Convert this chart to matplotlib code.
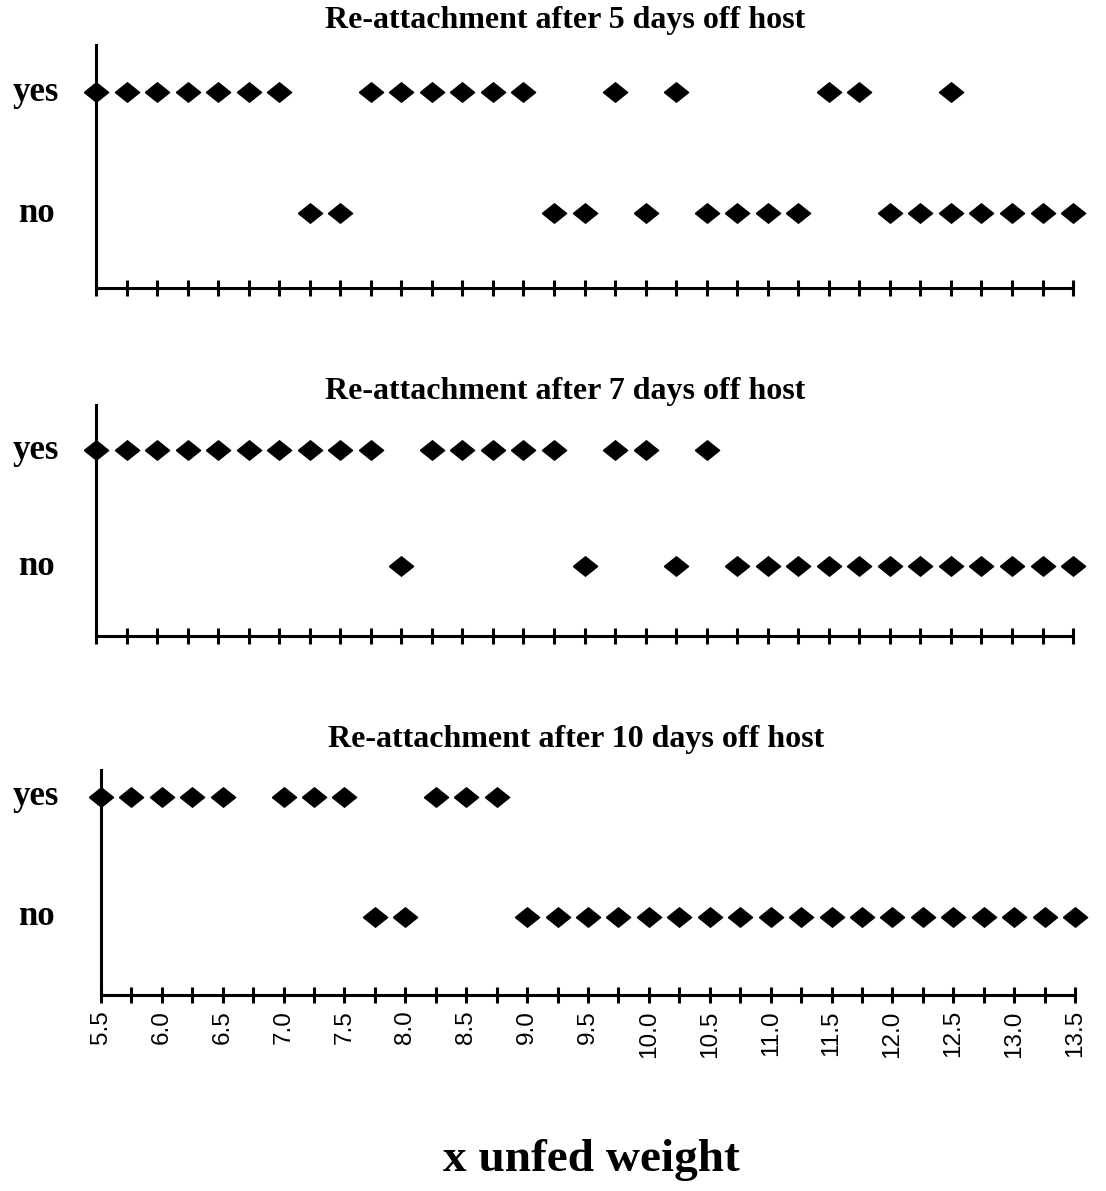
import numpy as np
import matplotlib
matplotlib.use("Agg")
import matplotlib.pyplot as plt
from matplotlib.ticker import MultipleLocator

# values (x unfed weight), one list per panel and outcome
yes_5d = [5.5, 5.75, 6.0, 6.25, 6.5, 6.75, 7.0, 7.75, 8.0, 8.25, 8.5, 8.75, 9.0,
          9.75, 10.25, 11.5, 11.75, 12.5]
no_5d = [7.25, 7.5, 9.25, 9.5, 10.0, 10.5, 10.75, 11.0, 11.25, 12.0, 12.25, 12.5,
         12.75, 13.0, 13.25, 13.5]

yes_7d = [5.5, 5.75, 6.0, 6.25, 6.5, 6.75, 7.0, 7.25, 7.5, 7.75, 8.25, 8.5, 8.75,
          9.0, 9.25, 9.75, 10.0, 10.5]
no_7d = [8.0, 9.5, 10.25, 10.75, 11.0, 11.25, 11.5, 11.75, 12.0, 12.25, 12.5,
         12.75, 13.0, 13.25, 13.5]

yes_10d = [5.5, 5.75, 6.0, 6.25, 6.5, 7.0, 7.25, 7.5, 8.25, 8.5, 8.75]
no_10d = [7.75, 8.0, 9.0, 9.25, 9.5, 9.75, 10.0, 10.25, 10.5, 10.75, 11.0, 11.25,
          11.5, 11.75, 12.0, 12.25, 12.5, 12.75, 13.0, 13.25, 13.5]

titles = ["Re-attachment after 5 days off host",
          "Re-attachment after 7 days off host",
          "Re-attachment after 10 days off host"]
panels = [(yes_5d, no_5d), (yes_7d, no_7d), (yes_10d, no_10d)]
tick_labels = ["5.5", "6.0", "6.5", "7.0", "7.5", "8.0", "8.5", "9.0", "9.5",
               "10.0", "10.5", "11.0", "11.5", "12.0", "12.5", "13.0", "13.5"]

serif = "Liberation Serif"
diamond = [(-1, 0), (0, 0.8), (1, 0), (0, -0.8), (-1, 0)]

fig = plt.figure(figsize=(11.06, 11.91), dpi=100)

# axes boxes in figure fractions: left, bottom, width, height
boxes = [(0.0868, 0.7582, 0.8834, 0.2040),
         (0.0868, 0.4660, 0.8834, 0.1940),
         (0.0913, 0.1646, 0.8807, 0.1889)]
ylims = [(-0.62, 1.39), (-0.60, 1.39), (-0.65, 1.225)]
title_x = [0.511, 0.511, 0.521]
title_y = [0.983, 0.671, 0.379]

for i, (box, (yes, no)) in enumerate(zip(boxes, panels)):
    ax = fig.add_axes(box)
    ax.plot(yes, np.ones(len(yes)), linestyle="none", marker=diamond,
            markersize=17.5, color="black", clip_on=False, zorder=5)
    ax.plot(no, np.zeros(len(no)), linestyle="none", marker=diamond,
            markersize=17.5, color="black", clip_on=False, zorder=5)
    ax.set_xlim(5.5, 13.5)
    ax.set_ylim(*ylims[i])
    ax.spines["top"].set_visible(False)
    ax.spines["right"].set_visible(False)
    ax.spines["left"].set_linewidth(2.2)
    ax.spines["bottom"].set_linewidth(2.2)
    ax.set_yticks([])
    ax.xaxis.set_major_locator(MultipleLocator(0.5))
    ax.xaxis.set_minor_locator(MultipleLocator(0.25))
    ax.tick_params(axis="x", which="both", direction="inout", length=12, width=2.2)
    if i == 2:
        ax.set_xticks(np.arange(5.5, 13.51, 0.5))
        ax.set_xticklabels(tick_labels, rotation=90, fontsize=17.5,
                           family="Liberation Sans")
        ax.tick_params(axis="x", which="major", pad=5)
    else:
        ax.set_xticklabels([])
    # row labels sit at the same page x in every panel
    ax.annotate("yes", xy=(0.0326, 1), xycoords=("figure fraction", "data"),
                ha="center", va="center", fontsize=25, fontweight="bold",
                family=serif)
    ax.annotate("no", xy=(0.0326, 0), xycoords=("figure fraction", "data"),
                ha="center", va="center", fontsize=25, fontweight="bold",
                family=serif)
    fig.text(title_x[i], title_y[i], titles[i], ha="center", va="center",
             fontsize=23, fontweight="bold", family=serif)

fig.text(0.535, 0.026, "x unfed weight", ha="center", va="center",
         fontsize=34, fontweight="bold", family=serif)

fig.savefig("out.png", dpi=100)
